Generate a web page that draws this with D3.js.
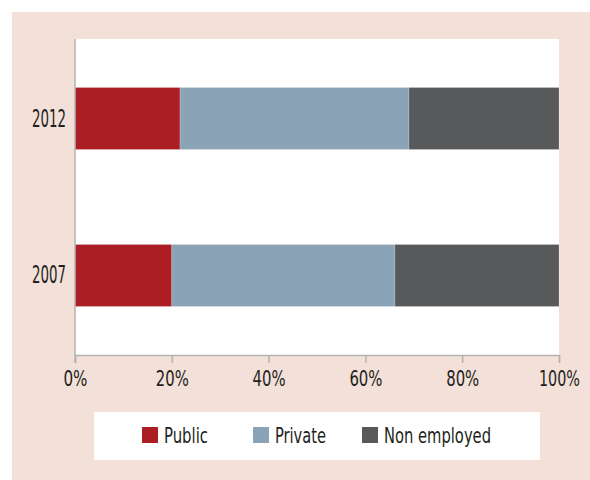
<!DOCTYPE html>
<html>
<head>
<meta charset="utf-8">
<script src="https://cdn.jsdelivr.net/npm/d3@7.9.0/dist/d3.min.js"></script>
<style>
  html, body { margin: 0; padding: 0; background: #fff; }
  svg { display: block; }
  text { font-family: "DejaVu Sans Condensed", "DejaVu Sans", sans-serif; fill: #231f20; }
</style>
</head>
<body>
<svg id="chart" width="590" height="480"></svg>
<script>
/* ---------- Data ---------- */
const years = ["2012", "2007"];
const seriesNames = ["Public", "Private", "Non employed"];
const publicShare  = [21.7, 20.0];
const privateShare = [47.3, 46.1];
const nonEmployed  = [31.0, 33.9];
const xTicks = [0, 20, 40, 60, 80, 100];

const colors = ["#ab1f24", "#8ba3b7", "#58595b"];

/* ---------- Layout ---------- */
const W = 590, H = 480;
const plot = { left: 75, right: 559, top: 39, bottom: 355 };

// the original uses a very condensed face; squeeze text to its measured widths
function squeeze(sel, width) {
  sel.attr("textLength", width).attr("lengthAdjust", "spacingAndGlyphs");
}

const svg = d3.select("#chart");

// pink panel
svg.append("rect")
  .attr("x", 12).attr("y", 12)
  .attr("width", W - 12).attr("height", H - 12)
  .attr("fill", "#f3e0d8");

// white plot area
svg.append("rect")
  .attr("x", plot.left).attr("y", plot.top)
  .attr("width", plot.right - plot.left).attr("height", plot.bottom - plot.top)
  .attr("fill", "#fff");

/* ---------- Scales ---------- */
const x = d3.scaleLinear().domain([0, 100]).range([plot.left, plot.right]);
const y = d3.scaleBand().domain(years)
  .range([plot.top, plot.bottom])
  .paddingInner(0.605).paddingOuter(0.309);

/* ---------- Stacked bars ---------- */
const rows = years.map((yr, i) => ({
  year: yr,
  "Public": publicShare[i],
  "Private": privateShare[i],
  "Non employed": nonEmployed[i]
}));
const stacked = d3.stack().keys(seriesNames)(rows);

svg.append("g")
  .selectAll("g")
  .data(stacked)
  .join("g")
    .attr("fill", (d, i) => colors[i])
  .selectAll("rect")
  .data(d => d)
  .join("rect")
    .attr("x", d => x(d[0]))
    .attr("y", d => y(d.data.year))
    .attr("width", d => x(d[1]) - x(d[0]))
    .attr("height", y.bandwidth())
    .attr("stroke", "#ffffff")
    .attr("stroke-opacity", 0.25)
    .attr("stroke-width", 0.8);

/* ---------- Axes ---------- */
const axisColor = "#b3b3b3";

const xAxis = svg.append("g")
  .attr("transform", `translate(0,${plot.bottom})`)
  .call(d3.axisBottom(x).tickValues(xTicks).tickSize(8).tickFormat(d => d + "%"));
xAxis.select(".domain").attr("stroke", axisColor).attr("stroke-width", 1.5);
xAxis.selectAll(".tick line").attr("stroke", axisColor).attr("stroke-width", 1.5);
xAxis.selectAll(".tick text")
  .attr("y", 31)
  .attr("dy", 0)
  .style("font-size", "22px")
  .attr("fill", "#231f20")
  .each(function (d) {
    const label = d + "%";
    squeeze(d3.select(this), label.length === 2 ? 24 : label.length === 3 ? 33 : 41);
  });

const yAxis = svg.append("g")
  .attr("transform", `translate(${plot.left},0)`)
  .call(d3.axisLeft(y).tickSize(0).tickPadding(9));
yAxis.select(".domain")
  .attr("d", `M0,${plot.top}V${plot.bottom + 8}`)
  .attr("stroke", axisColor).attr("stroke-width", 1.5);
yAxis.selectAll(".tick text")
  .attr("dy", 8)
  .attr("x", -9 - 34)
  .attr("text-anchor", "start")
  .style("font-size", "24px")
  .attr("fill", "#231f20")
  .call(squeeze, 34);

/* ---------- Legend ---------- */
const legend = svg.append("g");
legend.append("rect")
  .attr("x", 94).attr("y", 412)
  .attr("width", 446).attr("height", 48)
  .attr("fill", "#fff");

const legendX = [142, 253, 362];
const legendTextW = [44, 51, 107];
const item = legend.selectAll("g.item")
  .data(seriesNames)
  .join("g")
    .attr("class", "item")
    .attr("transform", (d, i) => `translate(${legendX[i]},427)`);
item.append("rect")
  .attr("width", 16).attr("height", 16)
  .attr("fill", (d, i) => colors[i]);
item.append("text")
  .attr("x", 22).attr("y", 16)
  .style("font-size", "22px")
  .attr("textLength", (d, i) => legendTextW[i])
  .attr("lengthAdjust", "spacingAndGlyphs")
  .text(d => d);
</script>
</body>
</html>
